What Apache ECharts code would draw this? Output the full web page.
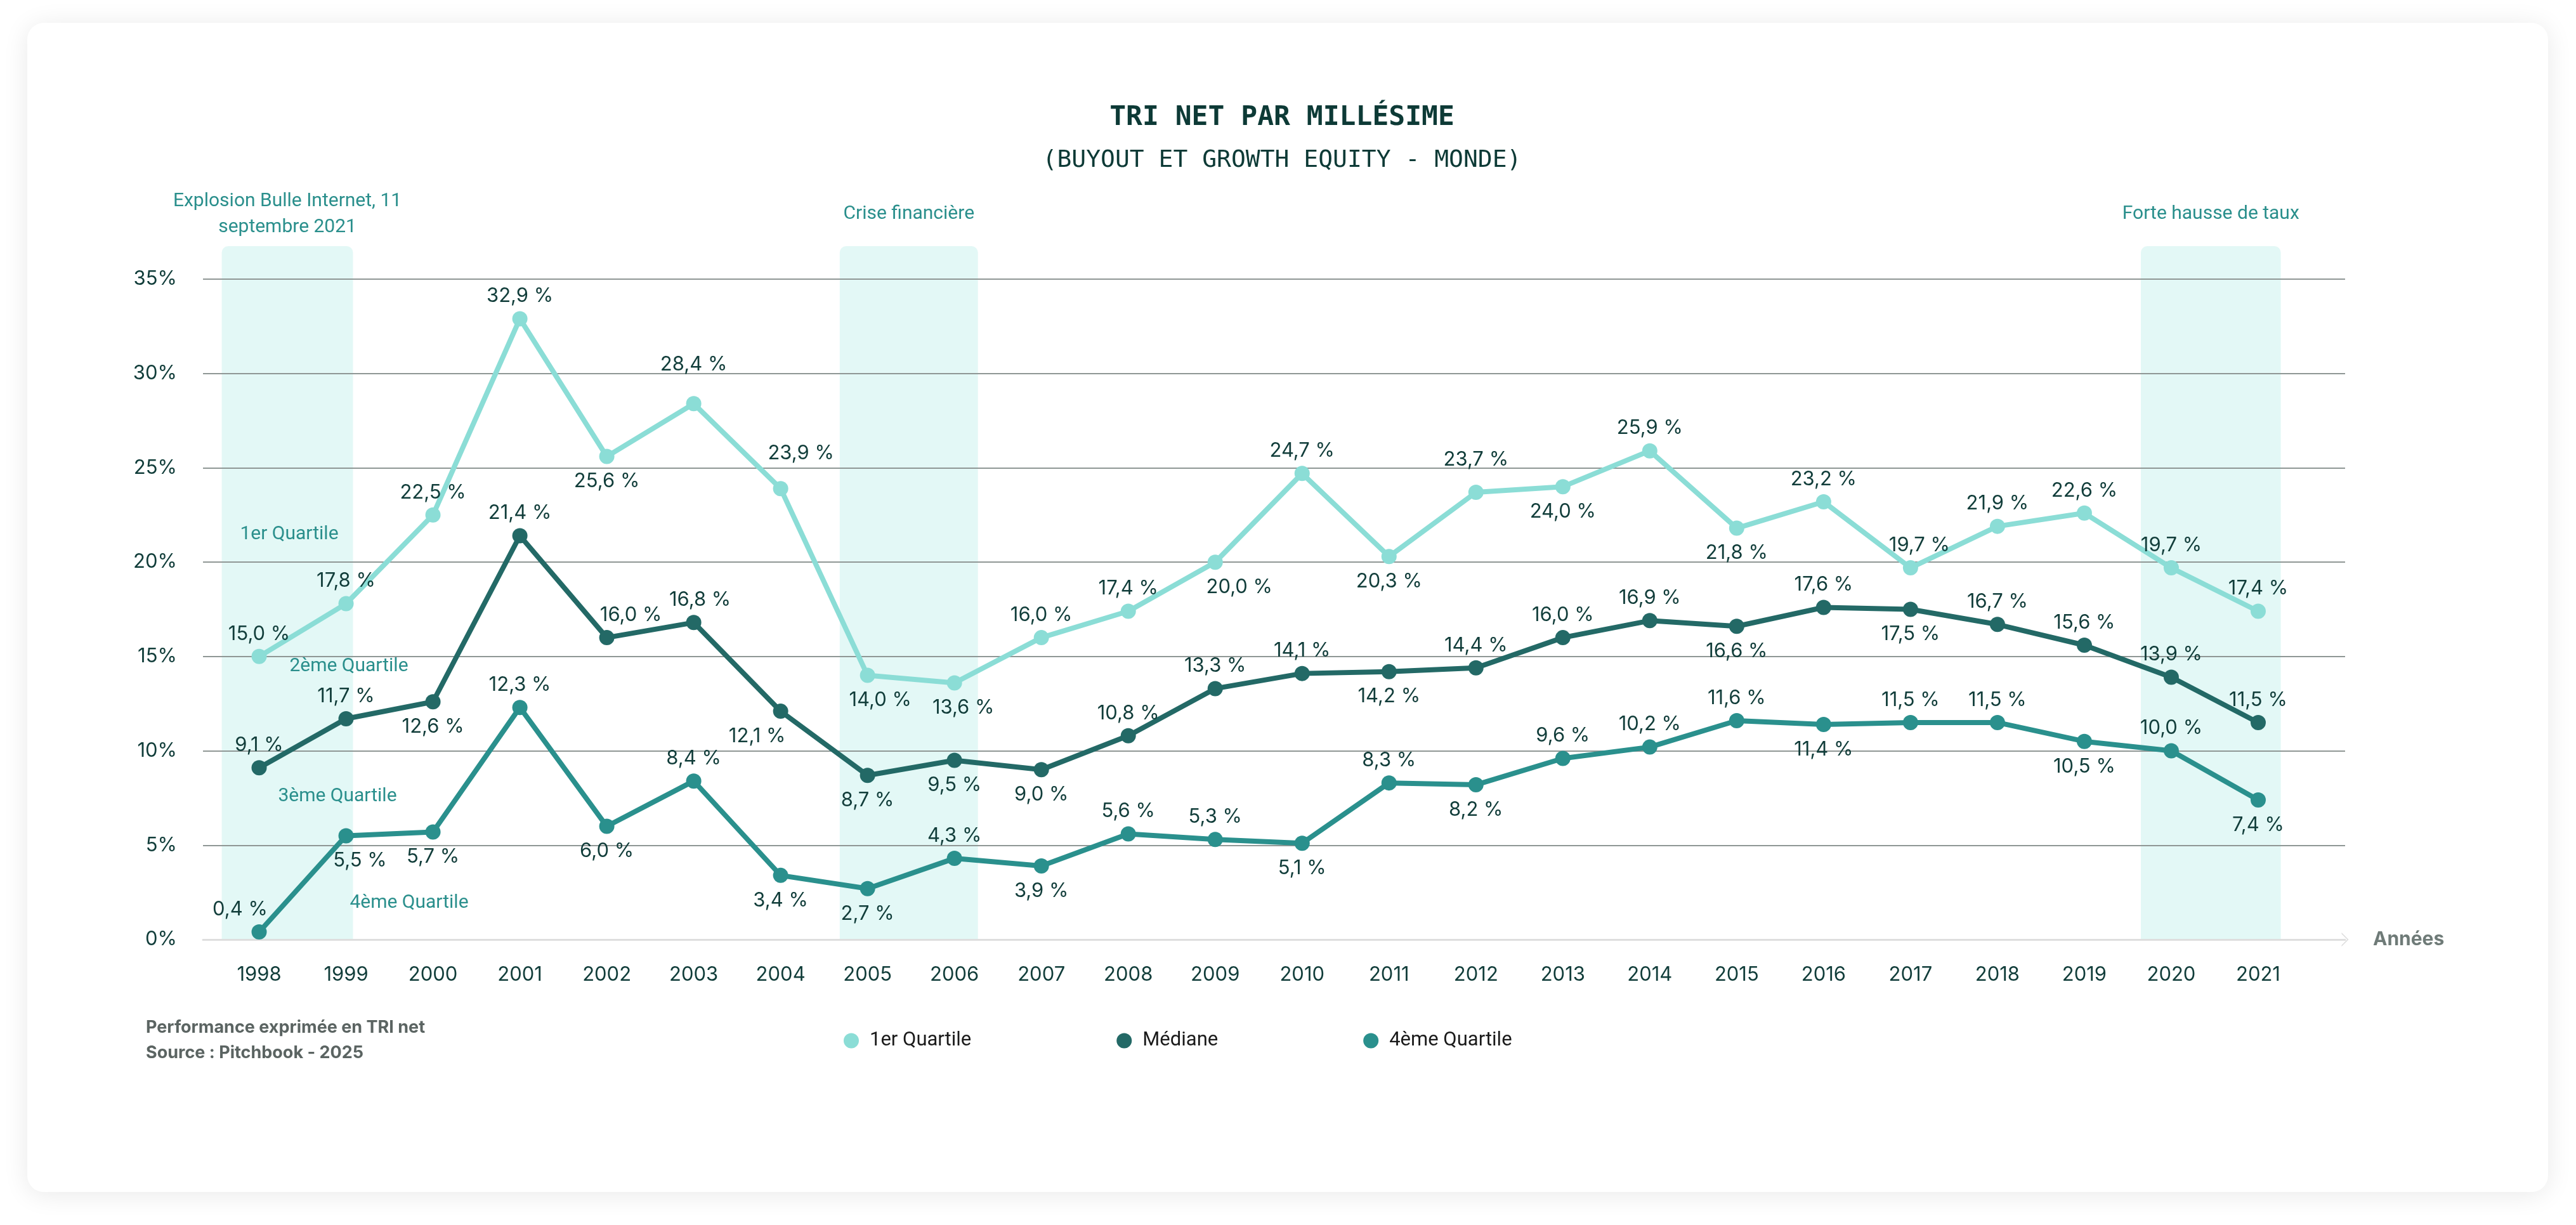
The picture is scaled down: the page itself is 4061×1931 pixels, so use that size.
<!DOCTYPE html>
<html>
<head>
<meta charset="utf-8">
<title>TRI net par millésime</title>
<script src="https://cdn.jsdelivr.net/npm/echarts@6/dist/echarts.min.js"></script>
<style>
    html, body { margin: 0; padding: 0; background: #ffffff; }
    #card {
        position: absolute; left: 43px; top: 36px; width: 3974px; height: 1843px;
        background: #ffffff; border-radius: 26px;
        box-shadow: 0 4px 40px rgba(0, 0, 0, 0.09);
    }
    #chart { position: absolute; left: 0; top: 0; width: 4061px; height: 1931px; }
</style>
</head>
<body>
<div id="card"></div>
<div id="chart"></div>
<script>
var years = [1998, 1999, 2000, 2001, 2002, 2003, 2004, 2005, 2006, 2007, 2008, 2009,
             2010, 2011, 2012, 2013, 2014, 2015, 2016, 2017, 2018, 2019, 2020, 2021]
var q1Values = [15.0, 17.8, 22.5, 32.9, 25.6, 28.4, 23.9, 14.0, 13.6, 16.0, 17.4, 20.0,
                24.7, 20.3, 23.7, 24.0, 25.9, 21.8, 23.2, 19.7, 21.9, 22.6, 19.7, 17.4]
var medianValues = [9.1, 11.7, 12.6, 21.4, 16.0, 16.8, 12.1, 8.7, 9.5, 9.0, 10.8, 13.3,
                    14.1, 14.2, 14.4, 16.0, 16.9, 16.6, 17.6, 17.5, 16.7, 15.6, 13.9, 11.5]
var q4Values = [0.4, 5.5, 5.7, 12.3, 6.0, 8.4, 3.4, 2.7, 4.3, 3.9, 5.6, 5.3,
                5.1, 8.3, 8.2, 9.6, 10.2, 11.6, 11.4, 11.5, 11.5, 10.5, 10.0, 7.4]
var seriesNames = ["1er Quartile", "Médiane", "4ème Quartile"]

// shaded periods (in years) and their captions
var bandStarts = [1997.57, 2004.68, 2019.65]
var bandEnds = [1999.08, 2006.27, 2021.26]
var bandTop = 36.75
var bandTitles = ["Explosion Bulle Internet, 11\nseptembre 2021", "Crise financière", "Forte hausse de taux"]

// where each value label sits: t = above the point, b = below
var q1Place = "ttttbttbbttbtbtbtbtttttt"
var medianPlace = "ttbtttbbbbtttbtttbtbtttt"
var q4Place = "tbbtbtbbtbttbtbtttbttbtb"
var labelShift = {
    "0-2003": [0, -26], "0-2004": [32, -20], "0-2005": [20, 0], "0-2006": [14, 0],
    "0-2009": [38, 0], "0-2012": [0, -16], "0-2017": [14, 0],
    "1-2002": [38, 0], "1-2003": [10, 0], "1-2004": [-37, 0],
    "2-1998": [-30, 0], "2-1999": [22, 0]
}

var colors = ["#8bddd6", "#236966", "#2a908d"]
var textDark = "#113d3a"
var annotColor = "#2a8f8c"

function fmt(v) {
    return v.toFixed(1).replace(".", ",") + " %"
}

function buildPoints(values, place, sIdx) {
    return values.map(function (v, i) {
        var key = sIdx + "-" + years[i]
        var below = place.charAt(i) === "b"
        return {
            value: [years[i], v],
            label: {
                position: below ? "bottom" : "top",
                distance: below ? 12 : 8,
                offset: labelShift[key] || [0, 0]
            }
        }
    })
}

var lineSeries = [q1Values, medianValues, q4Values].map(function (vals, s) {
    var place = [q1Place, medianPlace, q4Place][s]
    return {
        name: seriesNames[s],
        type: "line",
        data: buildPoints(vals, place, s),
        color: colors[s],
        symbol: "circle",
        symbolSize: 24,
        lineStyle: { width: 8, color: colors[s] },
        itemStyle: { color: colors[s] },
        z: 3 + s,
        label: {
            show: true,
            fontFamily: "Inter",
            fontSize: 31,
            color: textDark,
            formatter: function (p) { return fmt(p.value[1]) }
        }
    }
})

var bandData = bandStarts.map(function (s, i) { return [s, bandEnds[i], bandTop] })

var bandSeries = {
    name: "bands",
    type: "custom",
    z: -1,
    silent: true,
    data: bandData,
    encode: { x: [0, 1], y: 2 },
    renderItem: function (params, api) {
        var p0 = api.coord([api.value(0), api.value(2)])
        var p1 = api.coord([api.value(1), 0])
        return {
            type: "group",
            children: [
                {
                    type: "rect",
                    shape: { x: p0[0], y: p0[1], width: p1[0] - p0[0], height: p1[1] - p0[1], r: [10, 10, 0, 0] },
                    style: { fill: "#e3f8f6" }
                },
                {
                    type: "text",
                    x: (p0[0] + p1[0]) / 2,
                    y: p0[1] - 50,
                    style: {
                        text: bandTitles[params.dataIndex],
                        align: "center",
                        verticalAlign: "middle",
                        fill: annotColor,
                        fontFamily: "Roboto",
                        fontSize: 30,
                        lineHeight: 41
                    }
                }
            ]
        }
    }
}

function note(txt, x, y) {
    return {
        type: "text", x: x, y: y, silent: true,
        style: { text: txt, align: "center", verticalAlign: "middle", fill: annotColor,
                 fontFamily: "Roboto", fontSize: 30 }
    }
}

var chart = echarts.init(document.getElementById("chart"))

var option = {
    animation: false,
    backgroundColor: "transparent",
    grid: { left: 320, right: 364, top: 440, bottom: 450, containLabel: false },
    legend: {
        data: seriesNames,
        left: 1325,
        top: 1620,
        icon: "circle",
        itemWidth: 24,
        itemHeight: 24,
        itemGap: 229,
        textStyle: { fontFamily: "Roboto", fontSize: 31, color: "#1a1a1a", padding: [0, 0, 0, 12] }
    },
    xAxis: {
        type: "value",
        min: 1997.354,
        max: 2022,
        name: "Années",
        nameLocation: "end",
        nameGap: 44,
        nameTextStyle: { fontFamily: "Inter", fontWeight: "bold", fontSize: 30, color: "#6f7b78",
                         align: "left", verticalAlign: "middle" },
        axisLine: {
            show: true,
            lineStyle: { color: "#dedede", width: 3 },
            symbol: ["none", "path://M0,10 L10,0 L20,10 L18,10 L10,2 L2,10 Z"],
            symbolSize: [22, 12]
        },
        axisTick: { show: false },
        splitLine: { show: false },
        axisLabel: {
            customValues: years,
            margin: 40,
            fontFamily: "Inter",
            fontSize: 31,
            color: textDark,
            formatter: function (v) { return String(Math.round(v)) }
        }
    },
    yAxis: {
        type: "value",
        min: 0,
        max: 35,
        interval: 5,
        axisLine: { show: false },
        axisTick: { show: false },
        axisLabel: {
            margin: 41,
            fontFamily: "Inter",
            fontSize: 31,
            color: textDark,
            formatter: "{value}%"
        },
        splitLine: { showMinLine: false, lineStyle: { color: "#8f9795", width: 2 } }
    },
    graphic: [
        {
            type: "text", x: 2021, y: 186, silent: true,
            style: { text: "TRI NET PAR MILLÉSIME", align: "center", verticalAlign: "middle",
                     fill: "#0d3a36", fontFamily: "DejaVu Sans Mono", fontWeight: "bold", fontSize: 43 }
        },
        {
            type: "text", x: 2021, y: 253, silent: true,
            style: { text: "(BUYOUT ET GROWTH EQUITY - MONDE)", align: "center", verticalAlign: "middle",
                     fill: "#0d3a36", fontFamily: "DejaVu Sans Mono", fontSize: 38 }
        },
        note("1er Quartile", 456, 842),
        note("2ème Quartile", 550, 1050),
        note("3ème Quartile", 532, 1255),
        note("4ème Quartile", 645, 1423),
        {
            type: "text", x: 230, y: 1620, silent: true,
            style: { text: "Performance exprimée en TRI net", verticalAlign: "middle",
                     fill: "#5b6462", fontFamily: "Inter", fontWeight: "bold", fontSize: 27 }
        },
        {
            type: "text", x: 230, y: 1660, silent: true,
            style: { text: "Source : Pitchbook - 2025", verticalAlign: "middle",
                     fill: "#5b6462", fontFamily: "Inter", fontWeight: "bold", fontSize: 27 }
        }
    ],
    series: [bandSeries].concat(lineSeries)
}

chart.setOption(option)
</script>
</body>
</html>
